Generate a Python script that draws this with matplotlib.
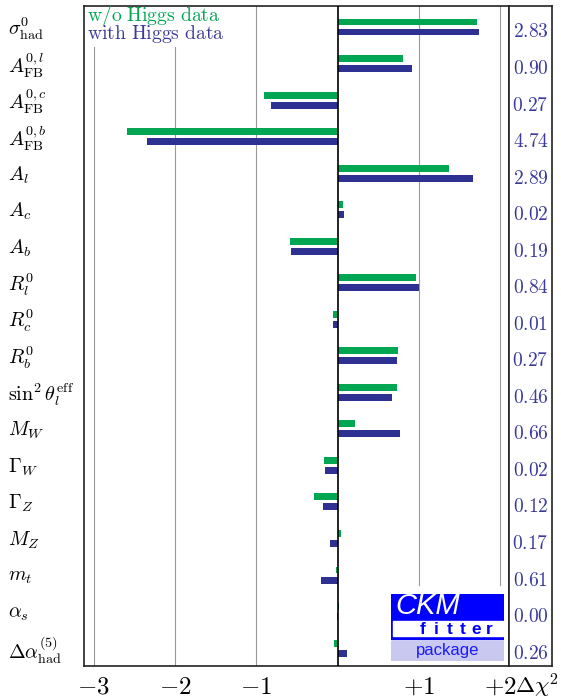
import matplotlib.pyplot as plt
from matplotlib.patches import Rectangle
from matplotlib.transforms import blended_transform_factory

plt.rcParams['mathtext.fontset'] = 'cm'
plt.rcParams['font.family'] = 'DejaVu Serif'

# electroweak observables, top to bottom
labels = [r'$\sigma^0_{\rm had}$', r'$A^{0,l}_{\rm FB}$', r'$A^{0,c}_{\rm FB}$',
          r'$A^{0,b}_{\rm FB}$', r'$A_l$', r'$A_c$', r'$A_b$', r'$R^0_l$',
          r'$R^0_c$', r'$R^0_b$', r'$\sin^2\theta_l^{\rm eff}$', r'$M_W$',
          r'$\Gamma_W$', r'$\Gamma_Z$', r'$M_Z$', r'$m_t$', r'$\alpha_s$',
          r'$\Delta\alpha^{(5)}_{\rm had}$']

# pulls without / with Higgs data
pull_no_higgs = [1.72, 0.80, -0.90, -2.59, 1.37, 0.065, -0.585, 0.97, -0.05,
                 0.74, 0.73, 0.22, -0.17, -0.29, 0.045, -0.02, 0.012, -0.04]
pull_higgs = [1.74, 0.92, -0.82, -2.35, 1.67, 0.075, -0.575, 1.00, -0.05,
              0.73, 0.67, 0.77, -0.15, -0.18, -0.095, -0.20, -0.008, 0.115]
delta_chi2 = ['2.83', '0.90', '0.27', '4.74', '2.89', '0.02', '0.19', '0.84',
              '0.01', '0.27', '0.46', '0.66', '0.02', '0.12', '0.17', '0.61',
              '0.00', '0.26']

xticks = [-3, -2, -1, 1, 2]
xticklabels = [r'$-3$', r'$-2$', r'$-1$', r'$+1$', r'$+2$']

green = '#00a651'
blue = '#2e3192'
txtblue = '#3a3a9c'

W, H = 561, 699
fig = plt.figure(figsize=(W / 100, H / 100), dpi=100)

def box(x0, y0, x1, y1):
    return [x0 / W, 1 - y1 / H, (x1 - x0) / W, (y1 - y0) / H]

ax = fig.add_axes(box(84, 6, 509, 666))
col = fig.add_axes(box(509, 6, 552, 666))

n = len(labels)
ypos = list(range(n))
off = 0.137
hgt = 0.19

ax.barh([y - off for y in ypos], pull_no_higgs, height=hgt, color=green, zorder=3)
ax.barh([y + off for y in ypos], pull_higgs, height=hgt, color=blue, zorder=3)

ax.set_xlim(-3.12, 2.11)
ax.set_ylim(n - 0.51, -0.575)
ax.axvline(0, color='black', lw=1.2, zorder=4)
for x in (-3, -2):
    ax.axvline(x, ymax=0.938, color='#999999', lw=0.8, zorder=1)
ax.axvline(-1, color='#999999', lw=0.8, zorder=1)
for x in (1, 2):
    ax.axvline(x, ymin=0.123, color='#999999', lw=0.8, zorder=1)

ax.set_yticks([])
ax.set_xticks(xticks)
ax.set_xticklabels(xticklabels, fontsize=18)
ax.tick_params(axis='x', length=0, pad=7)
for s in ax.spines.values():
    s.set_linewidth(1.2)
    s.set_color('#222222')

# observable names at the left margin
trans = blended_transform_factory(fig.transFigure, ax.transData)
for y, lab in zip(ypos, labels):
    ax.text(8 / W, y + 0.05, lab, transform=trans, ha='left', va='center', fontsize=14.5)

ax.text(0.008, 0.985, r'$\mathrm{w/o\ Higgs\ data}$', transform=ax.transAxes,
        color=green, fontsize=14.2, ha='left', va='center')
ax.text(0.008, 0.957, r'$\mathrm{with\ Higgs\ data}$', transform=ax.transAxes,
        color=txtblue, fontsize=14.2, ha='left', va='center')

# delta chi2 column
col.set_xlim(0, 1)
col.set_ylim(ax.get_ylim())
col.set_xticks([])
col.set_yticks([])
for s in col.spines.values():
    s.set_linewidth(1.2)
    s.set_color('#222222')
for y, v in zip(ypos, delta_chi2):
    col.text(0.5, y + 0.15, r'$%s$' % v, ha='center', va='center', fontsize=14, color=txtblue)

fig.text(515 / W, 1 - 686 / H, r'$\Delta\chi^2$', ha='left', va='center', fontsize=16.5)

# CKMfitter logo
logo = fig.add_axes(box(391, 594, 504, 661))
logo.set_xlim(0, 113)
logo.set_ylim(0, 67)
logo.axis('off')
logo.add_patch(Rectangle((0, 22), 113, 45, color='#0000ff'))
logo.add_patch(Rectangle((2, 25), 110, 15, color='white'))
logo.add_patch(Rectangle((0, 0), 113, 20, color='#c8c8f0'))
logo.text(4, 55, 'CKM', color='white', fontsize=21, style='italic',
          family='Liberation Sans', ha='left', va='center')
for k, ch in enumerate('fitter'):
    logo.text(32 + k * 13.2, 32, ch, color='#0000ff', fontsize=12.5, weight='bold',
              family='Liberation Sans', ha='center', va='center')
logo.text(57, 10, 'package', color='#1a1aff', fontsize=12,
          family='Liberation Sans', ha='center', va='center')

fig.savefig('out.png', dpi=100)
